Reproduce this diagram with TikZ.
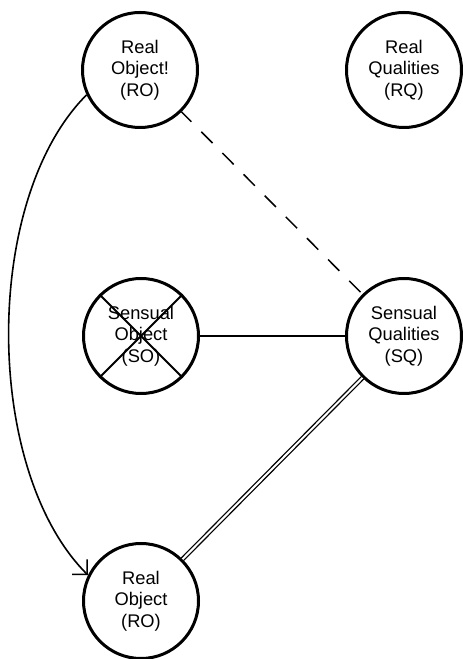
\documentclass[tikz,border=0pt]{standalone}
\usepackage{fontspec}
\setmainfont{Liberation Sans}
\usetikzlibrary{arrows.meta}

\tikzset{
  entity/.style={circle, draw, line width=3pt, minimum size=115pt, inner sep=0pt,
    align=center, font=\fontsize{18.3}{21.6}\selectfont},
  link/.style={line width=1.6pt},
  dashlink/.style={line width=1.5pt, dash pattern=on 16pt off 14pt, dash phase=2pt},
  doublelink/.style={double, double distance=2pt, line width=1.3pt},
  crossline/.style={line width=2pt},
  barb/.style={-{Straight Barb[length=10.6pt, width=21.2pt, line width=1.6pt]}}
}

\begin{document}
\begin{tikzpicture}[x=1pt, y=1pt]
  \useasboundingbox (0,0) rectangle (463,659);

  % the five circles
  \node[entity] (ro1) at (140,589) {Real\\Object!\\(RO)};
  \node[entity] (rq)  at (404,589) {Real\\Qualities\\(RQ)};
  \node[entity] (so)  at (141,323) {Sensual\\Object\\(SO)};
  \node[entity] (sq)  at (404,323) {Sensual\\Qualities\\(SQ)};
  \node[entity] (ro2) at (141,58)  {Real\\Object\\(RO)};

  % the sensual object is struck through
  \draw[crossline] (so.45) -- (so.225);
  \draw[crossline] (so.135) -- (so.315);

  % connectors
  \draw[dashlink] (ro1) -- (sq);
  \draw[link] (so) -- (sq);
  \draw[doublelink] (sq) -- (ro2);
  \draw[link, barb] (ro1.205) .. controls +(225:148) and +(135:148) .. (ro2.154);
\end{tikzpicture}
\end{document}
